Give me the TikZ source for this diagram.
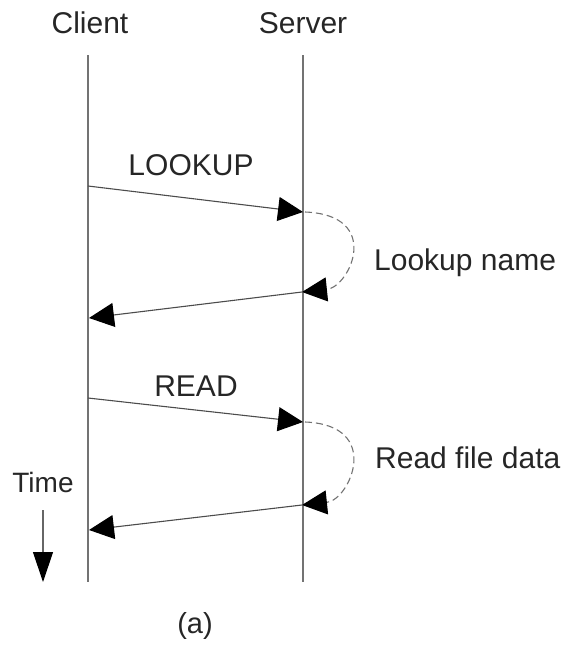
\documentclass[tikz,border=0pt]{standalone}
\usepackage{fontspec}
\setmainfont{Liberation Sans}
\usetikzlibrary{arrows.meta}
\begin{document}
\begin{tikzpicture}[x=1pt,y=-1pt,
  lbl/.style={inner sep=0pt,anchor=base,font=\fontsize{30}{34}\selectfont,text=black!85},
  life/.style={draw=black!55,line width=1.4pt},
  msg/.style={draw=black!70,line width=1.1pt,-{Triangle[length=25pt,width=24pt,color=black]}},
  work/.style={draw=black!55,line width=1.1pt,dash pattern=on 7pt off 4pt,-{Triangle[length=25pt,width=24pt,color=black]}},
  timearrow/.style={draw=black!60,line width=1.2pt,-{Triangle[length=30pt,width=20pt,color=black]}}]
\useasboundingbox (0,0) rectangle (564,649);
% lifelines
\coordinate (ctop) at (88,55);
\coordinate (cbot) at (88,582);
\coordinate (stop) at (303,55);
\coordinate (sbot) at (303,582);
\draw[life] (ctop) -- (cbot);
\draw[life] (stop) -- (sbot);
\node[lbl] (client) at (90,33) {Client};
\node[lbl] (server) at (303,33) {Server};
% lookup
\coordinate (c1) at (88,186);
\coordinate (s1) at (303,212);
\coordinate (s1w) at (305,212);
\coordinate (s2) at (302,292);
\coordinate (c2) at (89,318);
\node[lbl] (lookup) at (191,175) {LOOKUP};
\draw[msg] (c1) -- (s1);
\draw[work] (s1w) .. controls (383,215) and (350,287) .. (s2);
\draw[msg] (s2) -- (c2);
\node[lbl,anchor=base west] (lname) at (374,270) {Lookup name};
% read
\coordinate (c3) at (88,398);
\coordinate (s3) at (303,422);
\coordinate (s3w) at (305,422);
\coordinate (s4) at (302,505);
\coordinate (c4) at (89,530);
\node[lbl] (read) at (196,396) {READ};
\draw[msg] (c3) -- (s3);
\draw[work] (s3w) .. controls (383,425) and (350,500) .. (s4);
\draw[msg] (s4) -- (c4);
\node[lbl,anchor=base west] (rfd) at (375,468) {Read file data};
% time
\node[lbl,font=\fontsize{28}{32}\selectfont] (time) at (43,492) {Time};
\coordinate (t1) at (43,510);
\coordinate (t2) at (43,582);
\draw[timearrow] (t1) -- (t2);
\node[lbl,font=\fontsize{29}{33}\selectfont] (a) at (195,633) {(a)};
\end{tikzpicture}
\end{document}
